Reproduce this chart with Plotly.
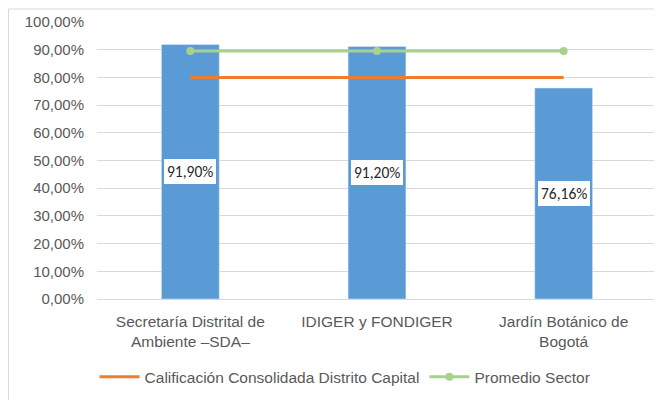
import plotly.graph_objects as go

categories = ["Secretaría Distrital de<br>Ambiente –SDA–", "IDIGER y FONDIGER", "Jardín Botánico de<br>Bogotá"]
entity_values = [0.919, 0.912, 0.7616]
entity_labels = ["91,90%", "91,20%", "76,16%"]
consolidated_values = [0.80, 0.80, 0.80]
sector_avg_values = [0.895, 0.895, 0.895]
y_ticks = [i / 10 for i in range(11)]

font = "Liberation Sans, Arial, sans-serif"
gray = "#595959"

fig = go.Figure()
fig.add_trace(go.Bar(x=categories, y=entity_values, marker_color="#5B9BD5",
                     width=0.31, showlegend=False, hoverinfo="skip"))
fig.add_trace(go.Scatter(x=categories, y=consolidated_values, mode="lines",
                         line=dict(color="#ED7D31", width=3),
                         name="Calificación Consolidada Distrito Capital"))
fig.add_trace(go.Scatter(x=categories, y=sector_avg_values, mode="lines+markers",
                         line=dict(color="#A9D18E", width=3),
                         marker=dict(color="#A9D18E", size=8),
                         name="Promedio Sector"))

for c, v, lab in zip(categories, entity_values, entity_labels):
    fig.add_annotation(x=c, y=v / 2, text=lab, showarrow=False,
                       font=dict(family="Carlito, Calibri, " + font, size=15.5, color="#262626"),
                       bgcolor="white", bordercolor="#5B9BD5", borderwidth=2, borderpad=3)

# outer chart frame (left and top edges visible)
fig.add_shape(type="rect", xref="paper", yref="paper", x0=-0.158, x1=1.2, y0=-0.5, y1=1.047,
              line=dict(color="#D9D9D9", width=1), layer="below")

fig.update_layout(
    width=654, height=392,
    margin=dict(l=89, r=5, t=14, b=101),
    paper_bgcolor="white", plot_bgcolor="white",
    separators=",.",
    font=dict(family=font, color=gray, size=15.5),
    xaxis=dict(range=[-0.5, 2.5], showgrid=False, showline=True, linecolor="#D9D9D9",
               ticks="", tickfont=dict(size=15.5, color=gray), ticklabelstandoff=8),
    yaxis=dict(range=[0, 1.0], tickvals=y_ticks, tickformat=".2%", showgrid=True,
               gridcolor="#D9D9D9", zeroline=False, ticks="", tickfont=dict(size=15, color=gray),
               ticklabelstandoff=12),
    legend=dict(orientation="h", x=0.443, xanchor="center", y=-0.282, yanchor="middle",
                font=dict(size=15.5, color=gray), itemwidth=40),
)

fig.write_html("out.html")
